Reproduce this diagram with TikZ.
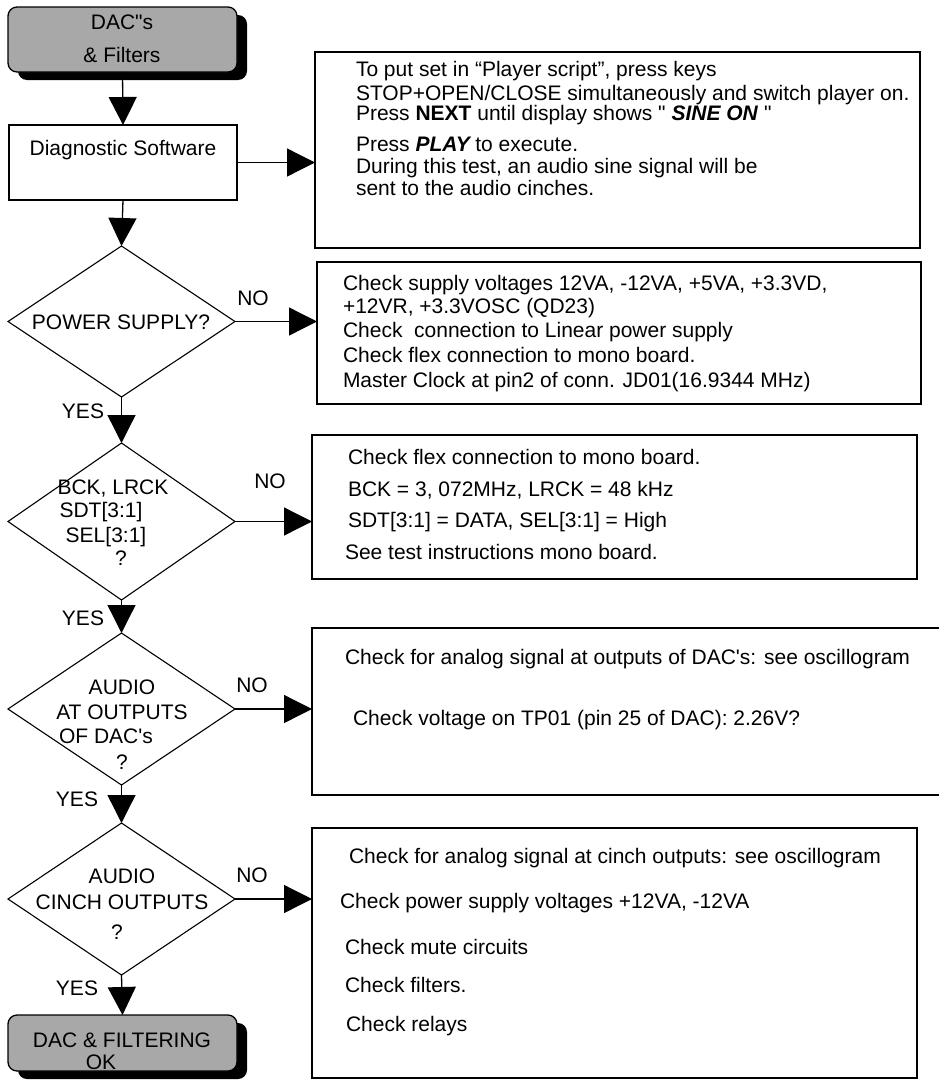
\documentclass[tikz,border=0pt]{standalone}
\usepackage{fontspec}
\newfontfamily\arialf{Liberation Sans}
\usetikzlibrary{shapes.geometric,arrows.meta,shadows}
\definecolor{termgray}{RGB}{168,168,168}
\begin{document}
\begin{tikzpicture}[x=1pt,y=-1pt,
  every node/.style={font=\arialf\fontsize{21}{24}\selectfont, inner sep=0pt, outer sep=0pt},
  box/.style={draw, line width=1.3pt, anchor=north west, inner sep=0pt},
  term/.style={draw, line width=1.3pt, fill=termgray, rounded corners=9pt, anchor=north west,
    drop shadow={shadow xshift=10pt, shadow yshift=-8pt, fill=black, opacity=1}},
  dia/.style={diamond, draw, line width=1.1pt, inner sep=0pt, minimum width=227pt},
  tl/.style={anchor=base west},
  tc/.style={anchor=base},
  arr/.style={line width=1.3pt, -{Triangle[length=28pt,width=28pt]}}
]
\useasboundingbox (0,0) rectangle (939,1084);

% start terminal
\node[term, minimum width=229pt, minimum height=65pt] (start) at (8,7) {};
\node[tc] (st1) at (122,29) {DAC"s};
\node[tc] (st2) at (122,62) {\& Filters};

% diagnostic software
\node[box, minimum width=228pt, minimum height=75pt] (diag) at (9,125) {};
\node[tc] (dg) at (123,155) {Diagnostic Software};

% box 1
\node[box, minimum width=605pt, minimum height=196pt] (b1) at (315,52) {};
\node[tl] (b1a) at (356,76) {To put set in “Player script”, press keys};
\node[tl] (b1b) at (356,100) {STOP+OPEN/CLOSE simultaneously and switch player on.};
\node[tl] (b1c) at (356,120) {Press \textbf{NEXT} until display shows " \textbf{\textit{SINE ON}} "};
\node[tl] (b1d) at (356,151) {Press \textbf{\textit{PLAY}}\kern-2pt{} to execute.};
\node[tl] (b1e) at (356,173) {During this test, an audio sine signal will be};
\node[tl] (b1f) at (356,195) {sent to the audio cinches.};

% diamond 1
\node[dia, minimum height=151pt] (d1) at (121.5,321.5) {};
\node[tc] (d1t) at (121,329) {POWER SUPPLY?};
\node[tc] (no1) at (253,305) {NO};
\node[tc] (yes1) at (83,418) {YES};

% box 2
\node[box, minimum width=604pt, minimum height=142pt] (b2) at (317,262) {};
\node[tl] (b2a) at (343,290) {Check supply voltages 12VA, -12VA, +5VA, +3.3VD,};
\node[tl] (b2b) at (343,313) {+12VR, +3.3VOSC (QD23)};
\node[tl] (b2c) at (343,337) {Check~ connection to Linear power supply};
\node[tl] (b2d) at (343,362) {Check flex connection to mono board.};
\node[tl] (b2e) at (343,387) {Master Clock at pin2 of conn. JD01(16.9344 MHz)};

% diamond 2
\node[dia, minimum height=157pt] (d2) at (121.5,521.5) {};
\node[tc] (d2a) at (113,494) {BCK, LRCK};
\node[tc] (d2b) at (101,517) {SDT[3:1]};
\node[tc] (d2c) at (106,542) {SEL[3:1]};
\node[tc] (d2d) at (121,565) {?};
\node[tc] (no2) at (270,488) {NO};
\node[tc] (yes2) at (83,625) {YES};

% box 3
\node[box, minimum width=605pt, minimum height=144pt] (b3) at (312,435) {};
\node[tl] (b3a) at (348,464) {Check flex connection to mono board.};
\node[tl] (b3b) at (348,496) {BCK = 3, 072MHz, LRCK = 48 kHz};
\node[tl] (b3c) at (348,527) {SDT[3:1] = DATA, SEL[3:1] = High};
\node[tl] (b3d) at (345,559) {See test instructions mono board.};

% diamond 3
\node[dia, minimum height=152pt] (d3) at (121.5,709) {};
\node[tc] (d3a) at (122,694) {AUDIO};
\node[tc] (d3b) at (122,719) {AT OUTPUTS};
\node[tc] (d3c) at (106,743) {OF DAC's};
\node[tc] (d3d) at (122,769) {?};
\node[tc] (no3) at (252,692) {NO};
\node[tc] (yes3) at (77,806) {YES};

% box 4 (open to the right)
\node[box, minimum width=640pt, minimum height=167pt] (b4) at (312,628) {};
\node[tl] (b4a) at (345,664) {Check for analog signal at outputs of DAC's: see oscillogram};
\node[tl] (b4b) at (353,725) {Check voltage on TP01 (pin 25 of DAC): 2.26V?};

% diamond 4
\node[dia, minimum height=152pt] (d4) at (121.5,899) {};
\node[tc] (d4a) at (122,883) {AUDIO};
\node[tc] (d4b) at (122,909) {CINCH OUTPUTS};
\node[tc] (d4c) at (117,939) {?};
\node[tc] (no4) at (252,882) {NO};
\node[tc] (yes4) at (77,995) {YES};

% box 5
\node[box, minimum width=605pt, minimum height=250pt] (b5) at (312,828) {};
\node[tl] (b5a) at (349,863) {Check for analog signal at cinch outputs: see oscillogram};
\node[tl] (b5b) at (340,908) {Check power supply voltages +12VA, -12VA};
\node[tl] (b5c) at (345,954) {Check mute circuits};
\node[tl] (b5d) at (345,992) {Check filters.};
\node[tl] (b5e) at (346,1031) {Check relays};

% end terminal
\node[term, minimum width=229pt, minimum height=56pt] (fin) at (8,1015) {};
\node[tc] (fn1) at (122,1047) {DAC \& FILTERING};
\node[tc] (fn2) at (101,1069) {OK};

% connectors
\draw[arr] (start.south) -- (diag.north);
\draw[arr] (diag.east) -- (diag.east -| b1.west);
\draw[arr] (diag.south) -- (d1.north);
\draw[arr] (d1.east) -- (d1.east -| b2.west);
\draw[arr] (d1.south) -- (d2.north);
\draw[arr] (d2.east) -- (d2.east -| b3.west);
\draw[arr] (d2.south) -- (d3.north);
\draw[arr] (d3.east) -- (d3.east -| b4.west);
\draw[arr] (d3.south) -- (d4.north);
\draw[arr] (d4.east) -- (d4.east -| b5.west);
\draw[arr] (d4.south) -- (fin.north);
\end{tikzpicture}
\end{document}
